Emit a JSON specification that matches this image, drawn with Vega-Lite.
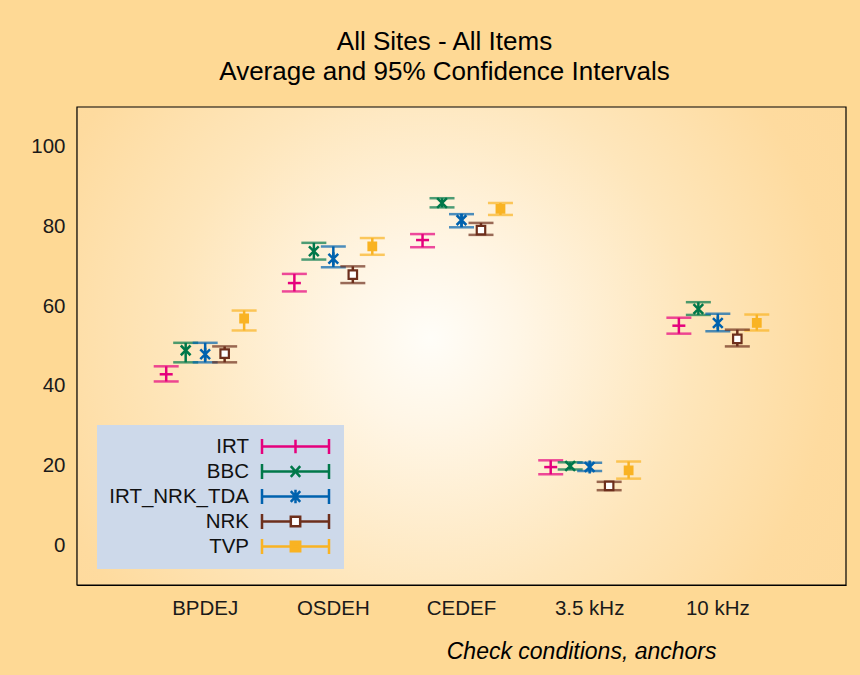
{
  "$schema": "https://vega.github.io/schema/vega-lite/v6.json",
  "width": 769,
  "height": 478,
  "autosize": {"type": "none"},
  "padding": {"left": 77, "top": 107, "right": 14, "bottom": 90},
  "background": "#fed995",
  "config": {
    "view": {"stroke": null},
    "font": "Liberation Sans",
    "axis": {"zindex": 1},
    "legend": {
      "orient": "none",
      "legendX": 20,
      "legendY": 318,
      "direction": "vertical",
      "fillColor": "#cdd9ea",
      "strokeColor": null,
      "padding": 10,
      "rowPadding": 0,
      "labelFontSize": 20.5,
      "labelColor": "#111111",
      "labelFont": "Liberation Sans",
      "labelAlign": "right",
      "labelOffset": -58,
      "labelLimit": 300,
      "symbolSize": 400,
      "symbolOffset": 177,
      "symbolStrokeWidth": 2.5,
      "symbolOpacity": 1
    }
  },
  "title": {
    "text": ["All Sites - All Items", "Average and 95% Confidence Intervals"],
    "font": "Liberation Sans",
    "fontSize": 26,
    "fontWeight": "normal",
    "color": "#000000",
    "anchor": "middle",
    "dx": -17,
    "offset": 21,
    "lineHeight": 30,
    "zindex": 1
  },
  "data": {
    "values": [
      {"cond": "BPDEJ", "series": "IRT", "mean": 42.9, "lo": 41.1, "hi": 44.9},
      {"cond": "BPDEJ", "series": "BBC", "mean": 48.9, "lo": 45.9, "hi": 50.8},
      {"cond": "BPDEJ", "series": "IRT_NRK_TDA", "mean": 47.9, "lo": 45.9, "hi": 50.8},
      {"cond": "BPDEJ", "series": "NRK", "mean": 48.1, "lo": 45.9, "hi": 49.9},
      {"cond": "BPDEJ", "series": "TVP", "mean": 56.9, "lo": 53.9, "hi": 58.9},
      {"cond": "OSDEH", "series": "IRT", "mean": 65.8, "lo": 63.7, "hi": 68.1},
      {"cond": "OSDEH", "series": "BBC", "mean": 73.8, "lo": 71.7, "hi": 75.9},
      {"cond": "OSDEH", "series": "IRT_NRK_TDA", "mean": 71.9, "lo": 69.8, "hi": 75.0},
      {"cond": "OSDEH", "series": "NRK", "mean": 67.9, "lo": 65.8, "hi": 70.0},
      {"cond": "OSDEH", "series": "TVP", "mean": 75.0, "lo": 72.9, "hi": 77.1},
      {"cond": "CEDEF", "series": "IRT", "mean": 76.6, "lo": 74.8, "hi": 78.1},
      {"cond": "CEDEF", "series": "BBC", "mean": 85.9, "lo": 84.8, "hi": 87.1},
      {"cond": "CEDEF", "series": "IRT_NRK_TDA", "mean": 81.6, "lo": 79.8, "hi": 83.1},
      {"cond": "CEDEF", "series": "NRK", "mean": 79.1, "lo": 77.9, "hi": 80.9},
      {"cond": "CEDEF", "series": "TVP", "mean": 84.4, "lo": 82.9, "hi": 85.9},
      {"cond": "3.5 kHz", "series": "IRT", "mean": 19.6, "lo": 17.8, "hi": 21.3},
      {"cond": "3.5 kHz", "series": "BBC", "mean": 19.9, "lo": 19.0, "hi": 20.8},
      {"cond": "3.5 kHz", "series": "IRT_NRK_TDA", "mean": 19.6, "lo": 18.6, "hi": 20.7},
      {"cond": "3.5 kHz", "series": "NRK", "mean": 14.9, "lo": 13.8, "hi": 15.9},
      {"cond": "3.5 kHz", "series": "TVP", "mean": 18.8, "lo": 16.7, "hi": 21.0},
      {"cond": "10 kHz", "series": "IRT", "mean": 55.1, "lo": 53.1, "hi": 57.1},
      {"cond": "10 kHz", "series": "BBC", "mean": 59.3, "lo": 57.8, "hi": 61.0},
      {"cond": "10 kHz", "series": "IRT_NRK_TDA", "mean": 55.8, "lo": 53.7, "hi": 58.1},
      {"cond": "10 kHz", "series": "NRK", "mean": 51.8, "lo": 49.9, "hi": 54.1},
      {"cond": "10 kHz", "series": "TVP", "mean": 55.8, "lo": 53.9, "hi": 57.9}
    ]
  },
  "encoding": {
    "x": {
      "field": "cond",
      "type": "nominal",
      "sort": ["BPDEJ", "OSDEH", "CEDEF", "3.5 kHz", "10 kHz"],
      "scale": {"domain": ["BPDEJ", "OSDEH", "CEDEF", "3.5 kHz", "10 kHz"], "paddingInner": 0.24, "paddingOuter": 0.62},
      "axis": {
        "labelAngle": 0,
        "labelFontSize": 20.5,
        "labelColor": "#1a1a1a",
        "labelPadding": 25,
        "tickSize": -12,
        "tickColor": "#000000",
        "tickWidth": 1,
        "domainColor": "#000000",
        "domainWidth": 1.2,
        "grid": false,
        "title": "Check conditions, anchors",
        "titleFontStyle": "italic",
        "titleFontWeight": "normal",
        "titleFontSize": 23,
        "titleColor": "#000000",
        "titleAlign": "right",
        "titleBaseline": "alphabetic",
        "titleX": 639,
        "titleY": 73
      }
    },
    "xOffset": {
      "field": "series",
      "type": "nominal",
      "scale": {"domain": ["IRT", "BBC", "IRT_NRK_TDA", "NRK", "TVP"], "paddingInner": 0, "paddingOuter": 0}
    },
    "y": {
      "field": "mean",
      "type": "quantitative",
      "scale": {"domain": [-10, 110], "nice": false, "zero": false},
      "axis": {
        "values": [0, 20, 40, 60, 80, 100],
        "labelFontSize": 20.5,
        "labelColor": "#1a1a1a",
        "labelPadding": 24,
        "tickSize": -12,
        "tickColor": "#000000",
        "tickWidth": 1,
        "domainColor": "#000000",
        "domainWidth": 1.2,
        "grid": false,
        "title": null
      }
    }
  },
  "layer": [
    {
      "data": {"values": [{}]},
      "mark": {
        "type": "rect",
        "stroke": "#000000",
        "strokeWidth": 1.2,
        "color": {
          "gradient": "radial",
          "x1": 0.46, "y1": 0.49, "x2": 0.46, "y2": 0.49,
          "r1": 0, "r2": 0.75,
          "stops": [
            {"offset": 0, "color": "#fffdf8"},
            {"offset": 0.15, "color": "#fff6e6"},
            {"offset": 0.45, "color": "#fee6bb"},
            {"offset": 0.7, "color": "#fedb9f"},
            {"offset": 1, "color": "#fdd796"}
          ]
        }
      },
      "encoding": {"x": null, "xOffset": null, "y": null}
    },
    {
      "mark": {"type": "point", "opacity": 0, "strokeWidth": 2.5, "size": 400},
      "encoding": {
        "stroke": {
          "field": "series",
          "type": "nominal",
          "scale": {"domain": ["IRT", "BBC", "IRT_NRK_TDA", "NRK", "TVP"], "range": ["#e5007d", "#00784a", "#0062ae", "#6d2f1c", "#f9b323"]},
          "legend": {"title": null}
        },
        "fill": {
          "field": "series",
          "type": "nominal",
          "scale": {"domain": ["IRT", "BBC", "IRT_NRK_TDA", "NRK", "TVP"], "range": ["transparent", "transparent", "transparent", "#ffffff", "#f9b323"]},
          "legend": {"title": null}
        },
        "shape": {
          "field": "series",
          "type": "nominal",
          "scale": {"domain": ["IRT", "BBC", "IRT_NRK_TDA", "NRK", "TVP"], "range": [
            "M-3.35,0H3.35M-3.35,-0.74V0.74M3.35,-0.74V0.74M0,-0.67V0.67",
            "M-3.35,0H3.35M-3.35,-0.74V0.74M3.35,-0.74V0.74M-0.47,-0.54L0.47,0.54M-0.47,0.54L0.47,-0.54",
            "M-3.35,0H3.35M-3.35,-0.74V0.74M3.35,-0.74V0.74M-0.47,-0.54L0.47,0.54M-0.47,0.54L0.47,-0.54M0,-0.67V0.67",
            "M-3.35,0H-0.47M0.47,0H3.35M-3.35,-0.74V0.74M3.35,-0.74V0.74M-0.47,-0.47H0.47V0.47H-0.47Z",
            "M-3.35,0H3.35M-3.35,-0.74V0.74M3.35,-0.74V0.74M-0.47,-0.47H0.47V0.47H-0.47Z"
          ]},
          "legend": {"title": null}
        }
      }
    },
    {
      "mark": {"type": "rule", "strokeWidth": 2.5},
      "encoding": {
        "y": {"field": "lo", "type": "quantitative"},
        "y2": {"field": "hi"},
        "color": {
          "field": "series",
          "type": "nominal",
          "scale": {"domain": ["IRT", "BBC", "IRT_NRK_TDA", "NRK", "TVP"], "range": ["#e5007d", "#00784a", "#0062ae", "#6d2f1c", "#f9b323"]},
          "legend": null
        }
      }
    },
    {
      "mark": {"type": "tick", "size": 25, "thickness": 2.5},
      "encoding": {
        "y": {"field": "lo", "type": "quantitative"},
        "color": {"field": "series", "type": "nominal", "legend": null}
      }
    },
    {
      "mark": {"type": "tick", "size": 25, "thickness": 2.5},
      "encoding": {
        "y": {"field": "hi", "type": "quantitative"},
        "color": {"field": "series", "type": "nominal", "legend": null}
      }
    },
    {
      "transform": [{"filter": "datum.series == 'IRT'"}],
      "mark": {"type": "point", "shape": "M-1,0H1", "size": 169, "stroke": "#e5007d", "fill": "transparent", "strokeWidth": 2.5, "opacity": 1}
    },
    {
      "transform": [{"filter": "datum.series == 'BBC'"}],
      "mark": {"type": "point", "shape": "M-0.75,-0.75L0.75,0.75M-0.75,0.75L0.75,-0.75", "size": 169, "stroke": "#00784a", "fill": "transparent", "strokeWidth": 2.5, "opacity": 1}
    },
    {
      "transform": [{"filter": "datum.series == 'IRT_NRK_TDA'"}],
      "mark": {"type": "point", "shape": "M-0.75,-0.75L0.75,0.75M-0.75,0.75L0.75,-0.75M0,-1V1", "size": 169, "stroke": "#0062ae", "fill": "transparent", "strokeWidth": 2.5, "opacity": 1}
    },
    {
      "transform": [{"filter": "datum.series == 'NRK'"}],
      "mark": {"type": "point", "shape": "M-0.65,-0.65H0.65V0.65H-0.65Z", "size": 169, "stroke": "#6d2f1c", "fill": "#ffffff", "strokeWidth": 2.2, "opacity": 1}
    },
    {
      "transform": [{"filter": "datum.series == 'TVP'"}],
      "mark": {"type": "point", "shape": "M-0.6,-0.6H0.6V0.6H-0.6Z", "size": 169, "stroke": "#f9b323", "fill": "#f9b323", "strokeWidth": 2, "opacity": 1}
    }
  ]
}
